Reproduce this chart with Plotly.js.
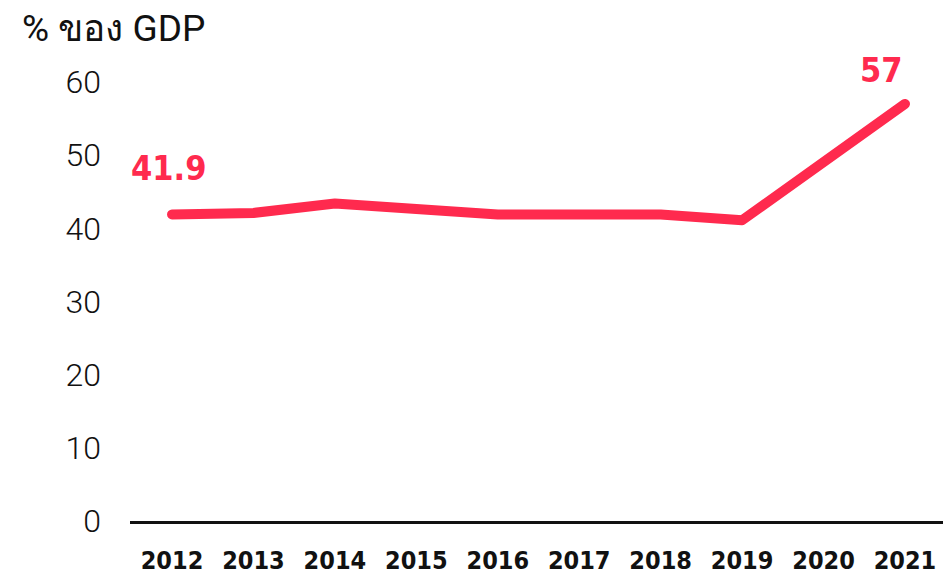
<!DOCTYPE html>
<html>
<head>
<meta charset="utf-8">
<script src="https://cdn.plot.ly/plotly-3.0.1.min.js"></script>
<style>
html,body{margin:0;padding:0;background:#fff;}
#chart{width:948px;height:577px;}
.scatterlayer .js-line{stroke-linecap:round !important;stroke-linejoin:round !important;}
</style>
</head>
<body>
<div id="chart"></div>
<script>
const years = [2012, 2013, 2014, 2015, 2016, 2017, 2018, 2019, 2020, 2021];
const debtPctGDP = [41.9, 42.1, 43.4, 42.6, 41.9, 41.9, 41.9, 41.1, 49.2, 57];
const yTicks = [0, 10, 20, 30, 40, 50, 60];
const yTitle = '% ของ GDP';
const labelIdx = [0, years.length - 1];

const red = '#ff2a4e';

const trace = {
  x: years,
  y: debtPctGDP,
  type: 'scatter',
  mode: 'lines',
  line: {color: red, width: 10},
  hoverinfo: 'skip'
};

const annotations = labelIdx.map((i, k) => ({
  x: years[i],
  y: debtPctGDP[i],
  xref: 'x', yref: 'y',
  text: String(debtPctGDP[i]),
  showarrow: false,
  xanchor: k === 0 ? 'center' : 'right',
  yanchor: 'bottom',
  xshift: k === 0 ? -4 : 0,
  yshift: k === 0 ? 24 : 12,
  font: {family: 'DejaVu Sans Condensed, Roboto, sans-serif', size: 34, color: red, weight: 700}
}));

annotations.push({
  xref: 'paper', yref: 'paper',
  x: 0, y: 1,
  xshift: -110, yshift: 32,
  text: yTitle,
  showarrow: false,
  xanchor: 'left', yanchor: 'middle',
  font: {family: 'Roboto, Noto Sans, DejaVu Sans, sans-serif', size: 37, color: '#111'}
});

const layout = {
  width: 948, height: 577,
  margin: {l: 130, r: 5, t: 60, b: 56},
  paper_bgcolor: '#fff', plot_bgcolor: '#fff',
  showlegend: false,
  xaxis: {
    range: [2011.484, 2021.467],
    tickvals: years,
    ticktext: years.map(String),
    showgrid: false, zeroline: false,
    showline: true, linecolor: '#111', linewidth: 3,
    ticks: '',
    ticklabelstandoff: 15,
    tickfont: {family: 'DejaVu Sans Condensed, Roboto, sans-serif', size: 25, color: '#111', weight: 700},
    fixedrange: true
  },
  yaxis: {
    range: [0, 63],
    tickvals: yTicks,
    showgrid: false, zeroline: false, showline: false,
    ticks: '',
    ticklabelstandoff: 28,
    tickfont: {family: 'Roboto, sans-serif', size: 32, color: '#111', weight: 300},
    fixedrange: true
  },
  annotations: annotations
};

Plotly.newPlot('chart', [trace], layout, {displayModeBar: false, staticPlot: true});
</script>
</body>
</html>
